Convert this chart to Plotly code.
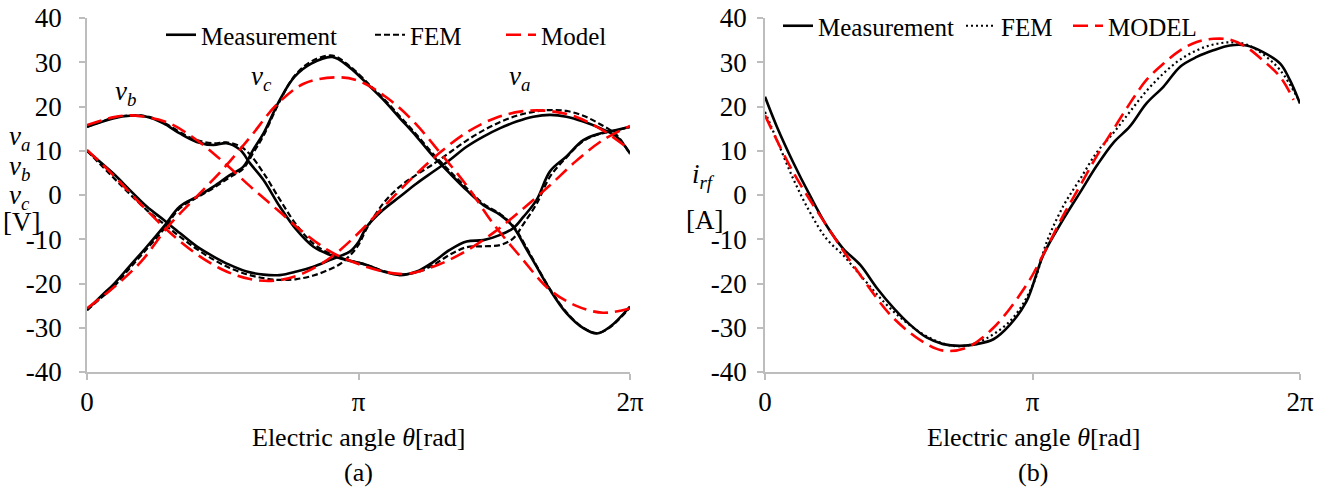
import numpy as np
import plotly.graph_objects as go

# ---------------- data (x given as fraction of one electrical period) ----------------
# Panel (a): phase voltages [V]
va_meas_f = [0, 0.048, 0.079, 0.11, 0.141, 0.171, 0.202, 0.233, 0.263, 0.294, 0.325, 0.355, 0.386, 0.417,
             0.447, 0.466, 0.484, 0.5, 0.515, 0.545, 0.576, 0.607, 0.638, 0.668, 0.699, 0.73, 0.761, 0.791,
             0.822, 0.853, 0.883, 0.914, 0.945, 0.975, 1.0]
va_meas_v = [10.0, 4.9, 1.1, -2.6, -5.6, -8.6, -11.6, -13.9, -15.8, -17.3, -18.0, -18.1, -17.3, -16.2,
             -14.7, -13.8, -12.8, -10.6, -7.2, -3.4, -0.4, 2.6, 5.3, 7.9, 10.9, 13.2, 15.1, 16.6,
             17.7, 18.1, 17.7, 16.6, 15.1, 13.2, 9.4]
va_fem_f = va_meas_f
va_fem_v = [10.0, 4.0, 0.2, -3.4, -6.5, -9.4, -12.2, -14.6, -16.5, -17.9, -18.8, -19.2, -19.0, -18.2,
            -16.8, -15.6, -13.7, -11.3, -7.6, -2.0, 1.9, 4.6, 7.0, 9.6, 12.3, 14.6, 16.5, 17.9,
            18.8, 19.2, 19.0, 17.9, 16.0, 13.6, 9.2]
va_model_f = [0, 0.05, 0.1, 0.15, 0.2, 0.25, 0.3, 0.35, 0.4, 0.45, 0.5, 0.55, 0.6, 0.65, 0.7, 0.75,
              0.8, 0.85, 0.9, 0.95, 1.0]
va_model_v = [10.2, 4.3, -2.2, -8.2, -13.2, -16.9, -19.0, -19.3, -17.6, -14.0, -8.6, -2.2, 4.0, 9.6,
              14.2, 17.3, 18.9, 19.0, 17.7, 14.6, 10.2]

vb_meas_f = [0, 0.048, 0.079, 0.11, 0.141, 0.171, 0.202, 0.233, 0.257, 0.282, 0.3, 0.325, 0.355, 0.386,
             0.417, 0.447, 0.478, 0.515, 0.546, 0.576, 0.607, 0.638, 0.668, 0.699, 0.73, 0.761, 0.785,
             0.804, 0.828, 0.853, 0.883, 0.914, 0.945, 0.975, 1.0]
vb_meas_v = [15.4, 17.3, 17.9, 17.7, 16.2, 13.9, 12.0, 11.3, 11.7, 10.2, 7.2, 3.4, -2.6, -7.9,
             -11.7, -13.5, -14.7, -15.8, -17.3, -18.1, -17.3, -15.1, -12.4, -10.5, -10.2, -9.0, -7.5,
             -4.9, -1.1, 5.4, 8.7, 12.4, 13.9, 14.7, 15.4]
vb_fem_f = vb_meas_f
vb_fem_v = [15.4, 17.4, 18.0, 17.8, 16.4, 14.2, 12.4, 11.7, 11.9, 11.0, 9.2, 5.0, -1.0, -6.8,
            -11.0, -13.2, -14.6, -15.8, -17.2, -17.9, -17.5, -15.8, -13.5, -11.8, -11.6, -11.3, -9.8,
            -6.5, -2.0, 4.2, 8.5, 12.2, 13.8, 14.6, 15.4]
vb_model_f = [0, 0.05, 0.08, 0.1, 0.15, 0.2, 0.25, 0.3, 0.35, 0.4, 0.45, 0.5, 0.55, 0.59, 0.65, 0.7,
              0.75, 0.8, 0.85, 0.9, 0.95, 1.0]
vb_model_v = [15.8, 17.6, 18.0, 17.8, 16.3, 12.6, 7.6, 2.0, -3.3, -8.6, -12.9, -15.6, -17.4, -17.8,
              -15.6, -12.5, -8.4, -3.4, 1.9, 7.6, 12.4, 15.6]

vc_meas_f = [0, 0.033, 0.048, 0.079, 0.11, 0.141, 0.171, 0.202, 0.233, 0.263, 0.288, 0.306, 0.325, 0.355,
             0.382, 0.413, 0.452, 0.483, 0.522, 0.546, 0.576, 0.607, 0.638, 0.668, 0.699, 0.73, 0.761,
             0.785, 0.81, 0.828, 0.853, 0.883, 0.914, 0.939, 0.963, 1.0]
vc_meas_v = [-26.0, -22.0, -20.3, -16.0, -11.7, -7.2, -2.6, -0.4, 1.9, 4.5, 6.4, 10.2, 13.9, 21.5,
             26.7, 29.7, 31.2, 28.9, 24.4, 21.5, 17.4, 13.2, 8.7, 4.9, 1.1, -2.3, -4.5,
             -7.2, -12.4, -16.2, -21.5, -26.7, -30.1, -31.3, -29.8, -25.2]
vc_fem_f = vc_meas_f
vc_fem_v = [-26.0, -22.5, -20.9, -16.5, -12.2, -7.8, -3.0, -0.6, 1.6, 4.0, 6.0, 9.5, 13.4, 21.2,
            26.9, 30.2, 31.5, 29.2, 24.7, 21.8, 17.8, 13.6, 9.2, 5.4, 1.6, -2.0, -4.3,
            -7.0, -12.0, -16.0, -21.3, -26.5, -30.0, -31.2, -29.9, -25.4]
vc_model_f = [0, 0.05, 0.1, 0.15, 0.2, 0.25, 0.3, 0.35, 0.4, 0.46, 0.5, 0.55, 0.6, 0.65, 0.7, 0.75,
              0.8, 0.85, 0.9, 0.95, 1.0]
vc_model_v = [-25.6, -20.8, -15.0, -7.0, -0.6, 5.8, 13.0, 20.5, 25.2, 26.6, 25.8, 22.2, 16.8, 9.6,
              2.0, -6.8, -14.2, -21.2, -25.0, -26.6, -25.6]

# Panel (b): rotor-frame current i_rf [A]
irf_meas_f = [0, 0.022, 0.053, 0.084, 0.115, 0.146, 0.178, 0.209, 0.24, 0.271, 0.302, 0.333, 0.364,
              0.396, 0.427, 0.458, 0.489, 0.52, 0.558, 0.589, 0.62, 0.651, 0.682, 0.713, 0.745, 0.776,
              0.807, 0.838, 0.869, 0.9, 0.931, 0.963, 0.981, 1.0]
irf_meas_v = [22.2, 15.5, 7.3, -0.1, -6.9, -12.1, -15.8, -21.0, -25.5, -29.3, -32.2, -33.7, -34.1,
              -33.7, -32.6, -29.3, -24.0, -13.6, -5.4, 0.6, 6.6, 11.8, 15.5, 20.7, 24.5, 29.0,
              31.2, 32.7, 33.8, 33.8, 32.3, 29.7, 26.0, 20.7]
irf_fem_f = [0, 0.022, 0.053, 0.084, 0.115, 0.146, 0.178, 0.24, 0.302, 0.352, 0.396, 0.458, 0.5,
             0.527, 0.558, 0.589, 0.62, 0.651, 0.682, 0.713, 0.745, 0.776, 0.807, 0.838, 0.869, 0.9,
             0.931, 0.963, 1.0]
irf_fem_v = [18.8, 12.5, 3.6, -3.9, -9.9, -13.6, -18.1, -26.3, -31.9, -34.1, -33.4, -28.5, -20.5,
             -10.5, -2.4, 3.6, 9.6, 14.0, 18.8, 23.5, 27.5, 30.6, 32.7, 34.0, 34.5, 34.0,
             31.8, 28.2, 21.0]
irf_model_f = [0, 0.053, 0.115, 0.178, 0.24, 0.302, 0.335, 0.377, 0.427, 0.489, 0.52, 0.558, 0.589,
               0.62, 0.651, 0.682, 0.713, 0.745, 0.776, 0.807, 0.838, 0.869, 0.9, 0.931, 0.963, 0.988]
irf_model_v = [18.0, 5.1, -6.9, -18.1, -27.8, -33.7, -35.2, -34.5, -30.0, -20.3, -13.5, -4.5, 2.1,
               8.8, 14.8, 20.7, 26.0, 29.7, 32.7, 34.6, 35.3, 35.1, 33.4, 30.4, 26.7, 21.5]

x_tick_vals = [0, np.pi, 2 * np.pi]
x_tick_text = ["0", "π", "2π"]
y_tick_vals = [-40, -30, -20, -10, 0, 10, 20, 30, 40]
y_tick_text = ["-40", "-30", "-20", "-10", "0", "10", "20", "30", "40"]
legend_a = ["Measurement", "FEM", "Model"]
legend_b = ["Measurement", "FEM", "MODEL"]

# ---------------- styling ----------------
W, H = 1328, 491
FONT = "Liberation Serif"
AX_GRAY = "#BDBDBD"
RED = "#FF0000"


def th(f):
    return np.array(f) * 2 * np.pi


meas_line = dict(color="black", width=2.6)
fem_dash = dict(color="black", width=2.2, dash="6px,3px")
fem_dot = dict(color="black", width=2.2, dash="2px,3px")
model_line = dict(color=RED, width=2.6, dash="15px,7px")

fig = go.Figure()

phases = [(va_meas_f, va_meas_v, va_fem_f, va_fem_v, va_model_f, va_model_v),
          (vb_meas_f, vb_meas_v, vb_fem_f, vb_fem_v, vb_model_f, vb_model_v),
          (vc_meas_f, vc_meas_v, vc_fem_f, vc_fem_v, vc_model_f, vc_model_v)]
for i, (mf, mv, ff, fv, pf, pv) in enumerate(phases):
    first = i == 0
    fig.add_trace(go.Scatter(x=th(mf), y=mv, mode="lines", line=meas_line, line_shape="spline",
                             name=legend_a[0], showlegend=first, legend="legend",
                             xaxis="x", yaxis="y"))
    fig.add_trace(go.Scatter(x=th(ff), y=fv, mode="lines", line=fem_dash, line_shape="spline",
                             name=legend_a[1], showlegend=first, legend="legend2",
                             xaxis="x", yaxis="y"))
for i, (mf, mv, ff, fv, pf, pv) in enumerate(phases):
    fig.add_trace(go.Scatter(x=th(pf), y=pv, mode="lines", line=model_line, line_shape="spline",
                             name=legend_a[2], showlegend=(i == 0), legend="legend3",
                             xaxis="x", yaxis="y"))

fig.add_trace(go.Scatter(x=th(irf_meas_f), y=irf_meas_v, mode="lines", line=meas_line,
                         line_shape="spline", name=legend_b[0], legend="legend4",
                         xaxis="x2", yaxis="y2"))
fig.add_trace(go.Scatter(x=th(irf_fem_f), y=irf_fem_v, mode="lines", line=fem_dot,
                         line_shape="spline", name=legend_b[1], legend="legend5",
                         xaxis="x2", yaxis="y2"))
fig.add_trace(go.Scatter(x=th(irf_model_f), y=irf_model_v, mode="lines", line=model_line,
                         line_shape="spline", name=legend_b[2], legend="legend6",
                         xaxis="x2", yaxis="y2"))

tickfont = dict(family=FONT, size=27, color="black")
common_x = dict(range=[0, 2 * np.pi], tickvals=x_tick_vals, ticktext=x_tick_text, showline=True,
                linecolor=AX_GRAY, linewidth=1.5, ticks="outside", ticklen=6, tickcolor=AX_GRAY,
                tickwidth=1.5, showgrid=False, zeroline=False, tickfont=tickfont,
                ticklabelstandoff=-1, automargin=False)
common_y = dict(range=[-40, 40], tickvals=y_tick_vals, ticktext=y_tick_text, showline=True,
                linecolor=AX_GRAY, linewidth=1.5, ticks="outside", ticklen=6, tickcolor=AX_GRAY,
                tickwidth=1.5, showgrid=False, zeroline=False, tickfont=tickfont, automargin=False)

yd = [1 - 372 / H, 1 - 18 / H]
fig.update_layout(
    width=W, height=H, margin=dict(l=0, r=0, t=0, b=0, autoexpand=False),
    paper_bgcolor="white", plot_bgcolor="white",
    font=dict(family=FONT, size=25, color="black"),
    xaxis=dict(domain=[87 / W, 630 / W], anchor="y", **common_x),
    yaxis=dict(domain=yd, anchor="x", ticklabelstandoff=12, **common_y),
    xaxis2=dict(domain=[765 / W, 1300 / W], anchor="y2", **common_x),
    yaxis2=dict(domain=yd, anchor="x2", ticklabelstandoff=5, **common_y),
)

leg_font = dict(family=FONT, size=25, color="black")
# (text start x, text centre y) of each legend entry, in pixels
leg_pos = {"legend": (203, 35), "legend2": (412, 35), "legend3": (543, 35),
           "legend4": (820, 26), "legend5": (1003, 26), "legend6": (1110, 26)}
for key, (px, py) in leg_pos.items():
    fig.update_layout({key: dict(x=(px - 42) / W, y=1 - py / H, xanchor="left", yanchor="middle",
                                 orientation="h", font=leg_font, bgcolor="rgba(0,0,0,0)",
                                 borderwidth=0, itemclick=False)})

ann = []


def add_text(x, y, text, size=26, xref="paper", yref="paper", xanchor="center"):
    ann.append(dict(x=x, y=y, xref=xref, yref=yref, text=text, showarrow=False,
                    xanchor=xanchor, yanchor="middle", font=dict(family=FONT, size=size, color="black")))


# axis titles
add_text(358 / W, 1 - 437 / H, "Electric angle <i>θ</i>[rad]")
add_text(1033 / W, 1 - 437 / H, "Electric angle <i>θ</i>[rad]")
add_text(358 / W, 1 - 472 / H, "(a)")
add_text(1033 / W, 1 - 472 / H, "(b)")
# y titles
add_text(19 / W, 1 - 138 / H, "<i>v</i><sub><i>a</i></sub>", size=27)
add_text(19 / W, 1 - 168 / H, "<i>v</i><sub><i>b</i></sub>", size=27)
add_text(19 / W, 1 - 197 / H, "<i>v</i><sub><i>c</i></sub>", size=27)
add_text(21 / W, 1 - 222 / H, "[V]", size=27)
add_text(703 / W, 1 - 176 / H, "<i>i</i><sub><i>rf</i></sub>", size=27)
add_text(704 / W, 1 - 220 / H, "[A]", size=27)
# curve labels (data coordinates of panel a)
for lbl, fx, vy in [("b", 0.07, 23.0), ("c", 0.322, 26.5), ("a", 0.797, 26.5)]:
    ann.append(dict(x=fx * 2 * np.pi, y=vy, xref="x", yref="y",
                    text=f"<i>v</i><sub><i>{lbl}</i></sub>", showarrow=False,
                    font=dict(family=FONT, size=27, color="black")))
fig.update_layout(annotations=ann)

fig.write_html("out.html", config={"displayModeBar": False},
               post_script="document.body.style.margin='0px';")
